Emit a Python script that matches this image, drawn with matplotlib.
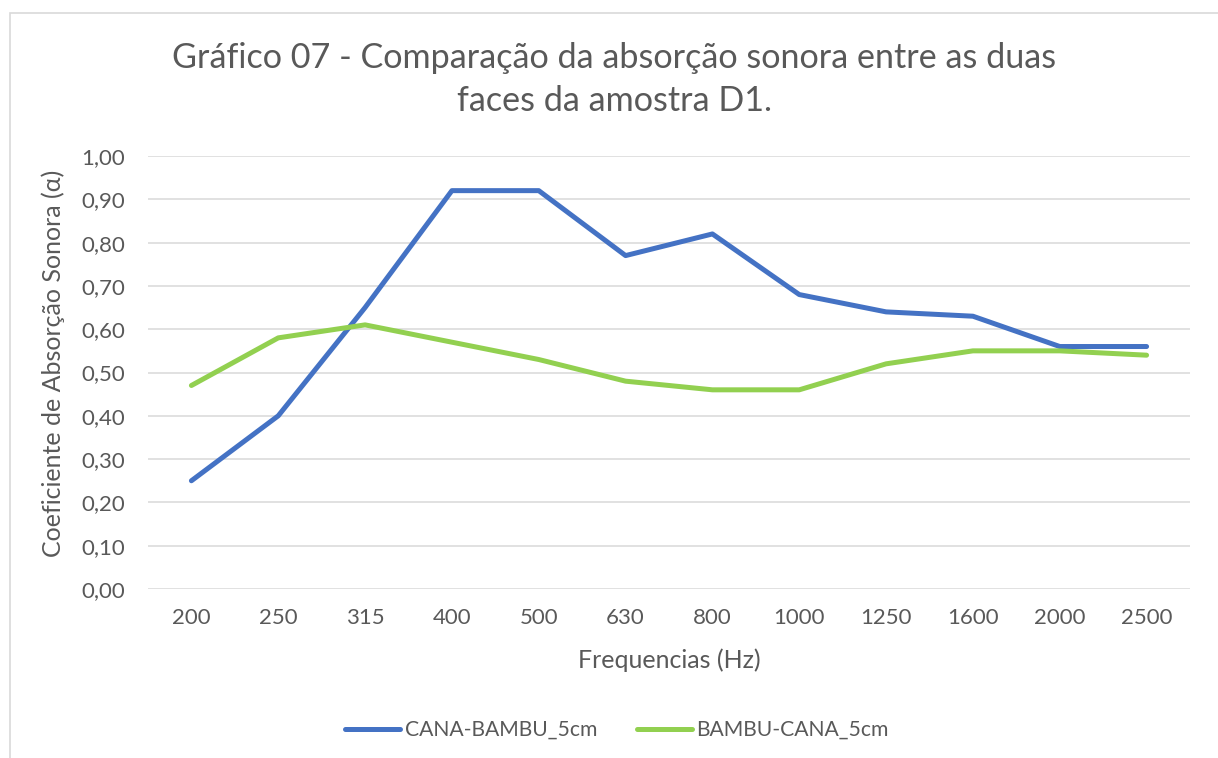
import matplotlib.pyplot as plt
from matplotlib.patches import Rectangle

freqs = ['200', '250', '315', '400', '500', '630', '800', '1000', '1250', '1600', '2000', '2500']
cana_bambu = [0.25, 0.40, 0.65, 0.92, 0.92, 0.77, 0.82, 0.68, 0.64, 0.63, 0.56, 0.56]
bambu_cana = [0.47, 0.58, 0.61, 0.57, 0.53, 0.48, 0.46, 0.46, 0.52, 0.55, 0.55, 0.54]

cinza = '#595959'
plt.rcParams['font.family'] = ['Lato', 'DejaVu Sans']

W, H = 1218, 758
fig = plt.figure(figsize=(W / 100, H / 100), dpi=100)

# borda do grafico (estilo excel)
fig.patches.append(Rectangle((9.5 / W, -0.1), 1.2, 1 - 12.5 / H + 0.1, transform=fig.transFigure,
                             fill=False, edgecolor='#d9d9d9', linewidth=1.2))

ax = fig.add_axes([148 / W, 1 - 589 / H, (1190 - 148) / W, (589 - 156) / H])
x = range(len(freqs))
ax.plot(x, cana_bambu, color='#4472C4', linewidth=3.6, solid_capstyle='round', label='CANA-BAMBU_5cm')
ax.plot(x, bambu_cana, color='#92D050', linewidth=3.6, solid_capstyle='round', label='BAMBU-CANA_5cm')

ax.set_xlim(-0.5, len(freqs) - 0.5)
ax.set_ylim(0, 1.0)
ax.set_xticks(list(x))
ax.set_xticklabels(freqs)
yt = [i / 10 for i in range(11)]
ax.set_yticks(yt)
ax.set_yticklabels([f'{v:.2f}'.replace('.', ',') for v in yt])
ax.grid(axis='y', color='#d9d9d9', linewidth=1.1)
ax.set_axisbelow(True)
for s in ax.spines.values():
    s.set_visible(False)
ax.tick_params(length=0, labelsize=16, colors=cinza)
ax.tick_params(axis='y', pad=16.5)
ax.tick_params(axis='x', pad=14)

ax.set_xlabel('Frequencias (Hz)', fontsize=18, color=cinza, va='baseline')
ax.xaxis.set_label_coords(0.5, (589 - 668) / 433)
ax.set_ylabel('Coeficiente de Absorção Sonora (α)', fontsize=18, color=cinza, va='center')
ax.yaxis.set_label_coords((53 - 148) / 1042, 0.52)

fig.text(614 / W, 1 - 68 / H, 'Gráfico 07 - Comparação da absorção sonora entre as duas',
         ha='center', va='baseline', fontsize=24.6, color=cinza)
fig.text(614 / W, 1 - 111 / H, 'faces da amostra D1.',
         ha='center', va='baseline', fontsize=24.6, color=cinza)

fig.legend(loc='center', bbox_to_anchor=(617 / W, 1 - 730 / H), ncol=2, frameon=False,
           fontsize=15.2, labelcolor=cinza, handlelength=2.6, handletextpad=0.2,
           columnspacing=1.9)

fig.savefig('out.png', dpi=100)
